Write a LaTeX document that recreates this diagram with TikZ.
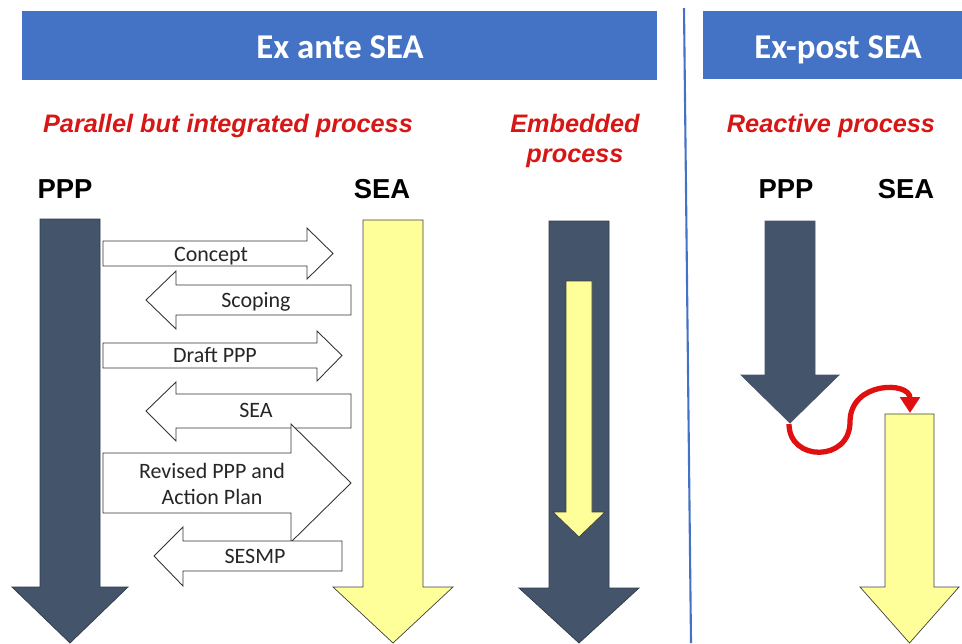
\documentclass[tikz,border=0pt]{standalone}
\usepackage{fontspec}
\setmainfont{Carlito}
\newfontfamily\arialfont{Liberation Sans}
\usetikzlibrary{arrows.meta}

\definecolor{headblue}{RGB}{68,114,196}
\definecolor{slate}{RGB}{68,84,106}
\definecolor{paleyellow}{RGB}{255,255,153}
\definecolor{redtxt}{RGB}{215,22,22}
\definecolor{curvered}{RGB}{225,16,16}

\begin{document}
\begin{tikzpicture}[
  x=0.02cm, y=-0.02cm,
  headbar/.style={fill=headblue},
  headtext/.style={font=\fontsize{19.8}{23}\selectfont\bfseries, text=white, inner sep=0pt},
  kind/.style={font=\arialfont\fontsize{14.4}{17}\selectfont\bfseries\itshape, text=redtxt, align=center, inner sep=0pt},
  colhead/.style={font=\arialfont\fontsize{15.6}{18}\selectfont\bfseries, inner sep=0pt},
  darkarr/.style={fill=slate, draw=slate!70!black, line width=0.4pt},
  yelarr/.style={fill=paleyellow, draw=black!75, line width=0.4pt},
  flow/.style={fill=white, draw=black!80, line width=0.5pt},
  flowtext/.style={font=\fontsize{12.5}{15.3}\selectfont, text=black!85, align=center, inner sep=0pt}
]
\useasboundingbox (0,0) rectangle (962,643);

% headers
\fill[headbar] (22,11) rectangle (657,80);
\fill[headbar] (703,11) rectangle (962,79);
\node[headtext, anchor=base] (exante) at (340,58) {Ex ante SEA};
\node[headtext, anchor=base] (expost) at (838,58) {Ex-post SEA};
\draw[headblue, line width=1.2pt] (684,8) -- (691,643);

% process kinds
\node[kind, anchor=base] (parallel) at (228,132) {Parallel but integrated process};
\node[kind] (embedded) at (575,141) {Embedded\\process};
\node[kind, anchor=base] (reactive) at (831,132) {Reactive process};
\node[colhead, anchor=base] (ppp1) at (65,198) {PPP};
\node[colhead, anchor=base] (sea1) at (382,198) {SEA};
\node[colhead, anchor=base] (ppp2) at (786,198) {PPP};
\node[colhead, anchor=base] (sea2) at (906,198) {SEA};

% parallel process
\draw[darkarr] (40,219) -- (100,219) -- (100,587) -- (128,587) -- (70,643) -- (12,587) -- (40,587) -- cycle;
\draw[yelarr] (363,220) -- (423,220) -- (423,587) -- (453,587) -- (393,643) -- (333,587) -- (363,587) -- cycle;

\draw[flow] (103,241) -- (307,241) -- (307,228) -- (333,253.5) -- (307,279) -- (307,266) -- (103,266) -- cycle;
\node[flowtext, anchor=base] (concept) at (211,261) {Concept};
\draw[flow] (351,285) -- (176,285) -- (176,271) -- (146,300) -- (176,329) -- (176,315) -- (351,315) -- cycle;
\node[flowtext, anchor=base] (scoping) at (256,307) {Scoping};
\draw[flow] (103,343) -- (317,343) -- (317,331) -- (342,355.5) -- (317,381) -- (317,368) -- (103,368) -- cycle;
\node[flowtext, anchor=base] (draft) at (215,362) {Draft PPP};
\draw[flow] (351,394) -- (176,394) -- (176,382) -- (146,411) -- (176,441) -- (176,428) -- (351,428) -- cycle;
\node[flowtext, anchor=base] (sea) at (256,417) {SEA};
\draw[flow] (103,453) -- (291,453) -- (291,424) -- (351,483) -- (291,542) -- (291,513) -- (103,513) -- cycle;
\node[flowtext] (revised) at (212,484) {Revised PPP and\\Action Plan};
\draw[flow] (342,541) -- (183,541) -- (183,527) -- (154,556) -- (183,586) -- (183,571) -- (342,571) -- cycle;
\node[flowtext, anchor=base] (sesmp) at (255,563) {SESMP};

% embedded process
\draw[darkarr] (549,221) -- (609,221) -- (609,588) -- (639,588) -- (579,643) -- (519,588) -- (549,588) -- cycle;
\draw[yelarr] (566,281) -- (592,281) -- (592,512) -- (605,512) -- (579,537) -- (553,512) -- (566,512) -- cycle;

% reactive process
\draw[darkarr, draw=slate] (765,221) -- (815,221) -- (815,375) -- (839,375) -- (790,423) -- (741,375) -- (765,375) -- cycle;
\draw[yelarr] (885,414) -- (934,414) -- (934,587) -- (959,587) -- (909.5,643) -- (860,587) -- (885,587) -- cycle;
\coordinate (ptip) at (789,424);
\coordinate (stop) at (910,413);
\draw[curvered, line width=3pt, -{Triangle[length=9pt, width=11pt]}]
  (ptip) .. controls (789,462) and (850,462) .. (850,422) .. controls (850,381) and (910,381) .. (stop);
\end{tikzpicture}
\end{document}
